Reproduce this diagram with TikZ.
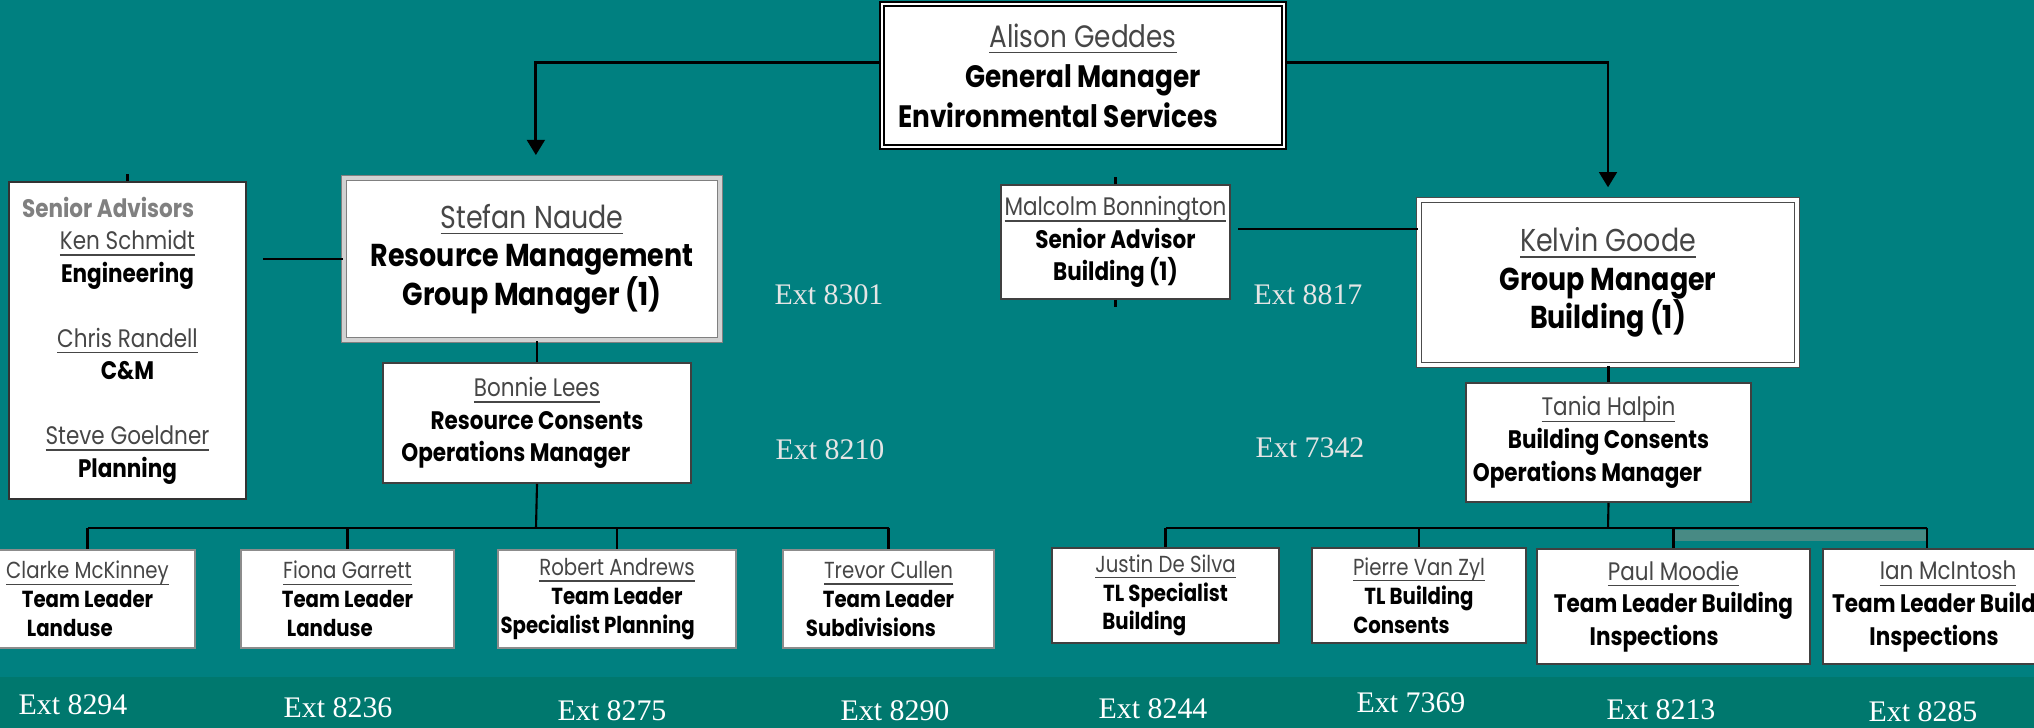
\documentclass[tikz,border=0pt]{standalone}
\usepackage{fontspec}
\setmainfont{Liberation Serif}
\newfontfamily\orgfont[FakeStretch=0.85]{Poppins}
\usetikzlibrary{arrows.meta}
\definecolor{bgteal}{RGB}{0,128,128}
\definecolor{bandteal}{RGB}{0,120,110}
\definecolor{shadeteal}{RGB}{72,138,132}
\definecolor{namegray}{RGB}{70,70,70}
\newcommand\pname[1]{{\mdseries\color{namegray}\underline{\raisebox{0pt}[\height][0.02em]{#1}}}}
\newcommand\nudge[1]{\rule{#1}{0pt}}

\begin{document}
\begin{tikzpicture}[x=0.01cm, y=-0.01cm,
  box/.style={draw=black!75, line width=0.5pt, fill=white, inner sep=0pt, align=center, text=black},
  gm/.style={box, draw=black, double=white, double distance=0.7pt},
  grp/.style={box, draw=black!50, double=black!18, double distance=1pt, line width=0.4pt},
  team/.style={box, draw=black!45, line width=0.7pt},
  bigtxt/.style={font=\orgfont\bfseries\fontsize{8.8pt}{11.4pt}\selectfont},
  midtxt/.style={font=\orgfont\bfseries\fontsize{9pt}{11pt}\selectfont},
  smalltxt/.style={font=\orgfont\bfseries\fontsize{7.2pt}{9.3pt}\selectfont},
  tinytxt/.style={font=\orgfont\bfseries\fontsize{6.6pt}{8.2pt}\selectfont},
  ext/.style={font=\fontsize{8.5pt}{10pt}\selectfont, text=white, inner sep=0pt},
  link/.style={line width=0.6pt, black},
  arr/.style={line width=0.8pt, -{Triangle[width=5pt,length=4.3pt]}}
]
\useasboundingbox (0,0) rectangle (2034,728);
\clip (0,0) rectangle (2034,728);
\fill[bgteal] (0,0) rectangle (2034,728);
\fill[bandteal] (0,677) rectangle (2034,728);
\fill[shadeteal] (1673,530) rectangle (1927,541);

\node[gm, bigtxt, minimum width=4.02cm, minimum height=1.43cm] (alison) at (1083,75.5)
  {\pname{Alison Geddes}\\General Manager\\Environmental Services\nudge{14pt}};
\node[box, smalltxt, draw=black!80, minimum width=2.37cm, minimum height=3.17cm] (senior) at (127.5,340.5)
  {{\color{black!50}Senior Advisors}\nudge{11pt}\\\pname{Ken Schmidt}\\Engineering\\[9.1pt]\pname{Chris Randell}\\C\&M\\[9.1pt]\pname{Steve Goeldner}\\Planning};
\node[grp, midtxt, minimum width=3.76cm, minimum height=1.62cm] (stefan) at (532,259)
  {\pname{Stefan Naude}\\Resource Management\\Group Manager (1)};
\node[box, smalltxt, minimum width=3.08cm, minimum height=1.2cm] (bonnie) at (537,423)
  {\pname{Bonnie Lees}\\Resource Consents\\Operations Manager\nudge{12pt}};
\node[box, smalltxt, minimum width=2.29cm, minimum height=1.14cm] (malcolm) at (1115.5,242)
  {\pname{Malcolm Bonnington}\\Senior Advisor\\Building (1)};
\node[grp, midtxt, draw=black!70, double=white, minimum width=3.78cm, minimum height=1.65cm] (kelvin) at (1608,282.5)
  {\pname{Kelvin Goode}\\Group Manager\\Building (1)};
\node[box, smalltxt, minimum width=2.85cm, minimum height=1.19cm] (tania) at (1608.5,442.5)
  {\pname{Tania Halpin}\\Building Consents\\Operations Manager\nudge{12pt}};

\node[team, tinytxt, minimum width=2.15cm, minimum height=0.98cm] (clarke) at (87.5,599)
  {\pname{Clarke McKinney}\\Team Leader\\Landuse\nudge{10pt}};
\node[team, tinytxt, minimum width=2.13cm, minimum height=0.98cm] (fiona) at (347.5,599)
  {\pname{Fiona Garrett}\\Team Leader\\Landuse\nudge{10pt}};
\node[team, tinytxt, minimum width=2.38cm, minimum height=0.98cm] (robert) at (617,599)
  {\pname{Robert Andrews}\\Team Leader\\Specialist Planning\nudge{11pt}};
\node[team, tinytxt, minimum width=2.11cm, minimum height=0.98cm] (trevor) at (888.5,599)
  {\pname{Trevor Cullen}\\Team Leader\\Subdivisions\nudge{10pt}};
\node[box, tinytxt, minimum width=2.27cm, minimum height=0.95cm] (justin) at (1165.5,595.5)
  {\pname{Justin De Silva}\\TL Specialist\\Building\nudge{12pt}};
\node[box, tinytxt, minimum width=2.14cm, minimum height=0.95cm] (pierre) at (1419,595.5)
  {\pname{Pierre Van Zyl}\\TL Building\\Consents\nudge{10pt}};
\node[box, smalltxt, minimum width=2.73cm, minimum height=1.15cm] (paul) at (1673.5,606.5)
  {\pname{Paul Moodie}\\Team Leader Building\\Inspections\nudge{11pt}};
\node[box, smalltxt, minimum width=2.22cm, minimum height=1.15cm] (ian) at (1934,606.5)
  {\nudge{8pt}\pname{Ian McIntosh}\\Team Leader Build\\Inspections};

\node[ext, text=white!90!black] (e8301) at (829,295) {Ext 8301};
\node[ext, text=white!90!black] (e8210) at (830,450) {Ext 8210};
\node[ext, text=white!90!black] (e8817) at (1308,295) {Ext 8817};
\node[ext, text=white!90!black] (e7342) at (1310,448) {Ext 7342};
\node[ext] (e8294) at (73,705) {Ext 8294};
\node[ext] (e8236) at (338,708) {Ext 8236};
\node[ext] (e8275) at (612,711) {Ext 8275};
\node[ext] (e8290) at (895,711) {Ext 8290};
\node[ext] (e8244) at (1153,709) {Ext 8244};
\node[ext] (e7369) at (1411,703) {Ext 7369};
\node[ext] (e8213) at (1661,710) {Ext 8213};
\node[ext] (e8285) at (1923,712) {Ext 8285};

\coordinate (lbus) at (536,528);
\coordinate (rbus) at (1608,528);
\coordinate (ianbus) at (1927,528);

\draw[arr] ([yshift=3.8pt]alison.west) -| ([xshift=1.1pt,yshift=6.3pt]stefan.north);
\draw[arr] ([yshift=3.8pt]alison.east) -| ([yshift=3.4pt]kelvin.north);
\draw[link] (stefan.west) -- ([xshift=4.5pt]senior.east |- stefan.west);
\draw[link] (senior.north) -- ++(0,-7);
\draw[link] (malcolm.north) -- ++(0,-7);
\draw[link] (malcolm.south) -- ++(0,7);
\draw[link] ([xshift=2pt,yshift=3.7pt]malcolm.east) coordinate (mk) -- (mk -| kelvin.west);
\draw[link] (bonnie.north) -- (bonnie.north |- stefan.south);
\draw[link] (bonnie.south) -- (lbus);
\draw[link] (clarke.north |- lbus) -- (trevor.north |- lbus);
\foreach \t in {clarke,fiona,robert,trevor}
  \draw[link] (\t.north |- lbus) -- (\t.north);
\draw[link] (tania.north) -- (tania.north |- kelvin.south);
\draw[link] (tania.south) -- (rbus);
\draw[link] (justin.north |- rbus) -- (ianbus);
\foreach \t in {justin,pierre,paul}
  \draw[link] (\t.north |- rbus) -- (\t.north);
\draw[link] (ianbus) -- (ianbus |- ian.north);
\end{tikzpicture}
\end{document}
